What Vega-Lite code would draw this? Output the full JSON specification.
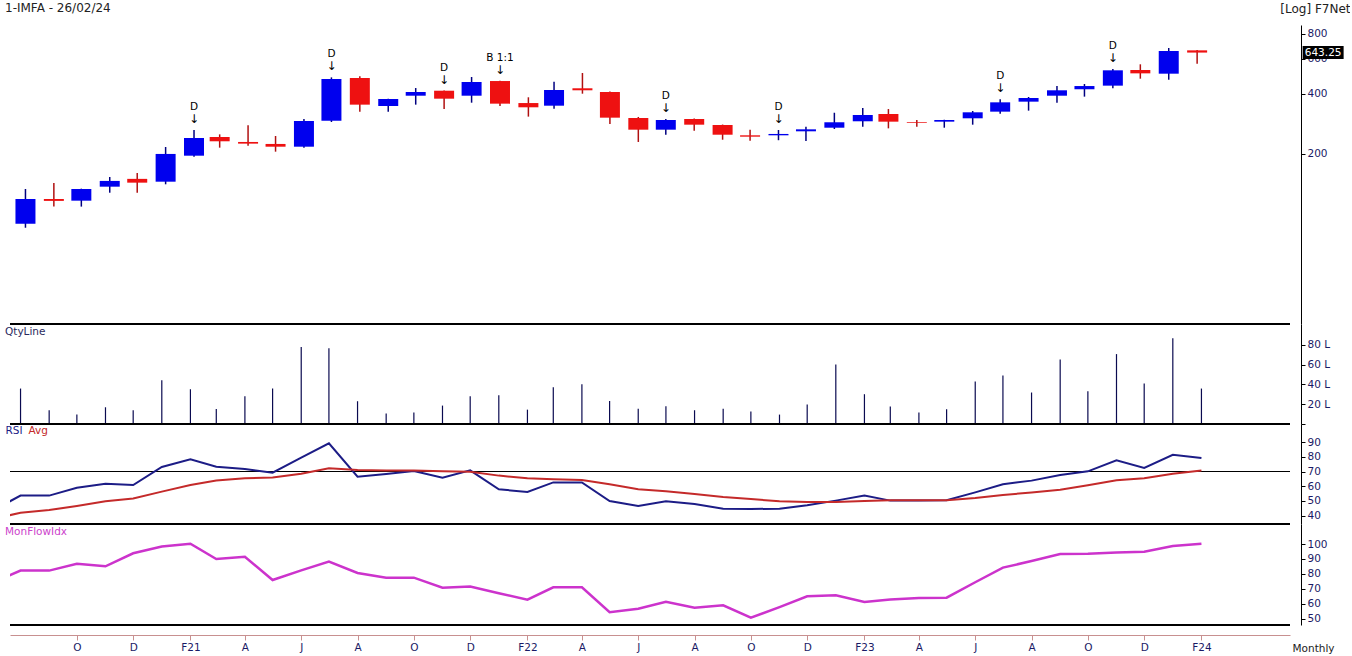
{
  "$schema": "https://vega.github.io/schema/vega-lite/v6.json",
  "background": "white",
  "padding": {"left": 5, "top": 2, "right": 0, "bottom": 0},
  "bounds": "flush",
  "spacing": 0,
  "config": {
    "font": "DejaVu Sans",
    "view": {"stroke": null},
    "axis": {"grid": false, "domainColor": "#000000", "tickColor": "#000000", "labelColor": "#1a1a66", "labelFontSize": 10.5, "labelPadding": 2, "tickSize": 4, "labelOverlap": false}
  },
  "resolve": {"scale": {"x": "independent", "y": "independent", "color": "independent"}, "legend": {"color": "independent"}},
  "datasets": {
    "ohlc": [
      {"date": "2020-08-01", "open": 89.1, "high": 133, "low": 85, "close": 118.5, "vol": 35.8},
      {"date": "2020-09-01", "open": 118.5, "high": 142.6, "low": 108.5, "close": 115.9, "vol": 13.9},
      {"date": "2020-10-01", "open": 116.2, "high": 133.5, "low": 108.5, "close": 133, "vol": 9.5},
      {"date": "2020-11-01", "open": 136.6, "high": 152.8, "low": 127.4, "close": 146, "vol": 16.9},
      {"date": "2020-12-01", "open": 149.5, "high": 160, "low": 127.4, "close": 143.1, "vol": 13.9},
      {"date": "2021-01-01", "open": 144.7, "high": 216, "low": 140.4, "close": 199.4, "vol": 44.3},
      {"date": "2021-02-01", "open": 195.4, "high": 263, "low": 193, "close": 239.8, "vol": 35.1, "event": "D"},
      {"date": "2021-03-01", "open": 242.5, "high": 250, "low": 214.4, "close": 230.8, "vol": 15.2},
      {"date": "2021-04-01", "open": 229, "high": 277.6, "low": 219.4, "close": 224.6, "vol": 28},
      {"date": "2021-05-01", "open": 223.8, "high": 245.4, "low": 204.7, "close": 216.8, "vol": 35.8},
      {"date": "2021-06-01", "open": 216.8, "high": 298.6, "low": 214.4, "close": 291.8, "vol": 77.7},
      {"date": "2021-07-01", "open": 292.8, "high": 483, "low": 288.5, "close": 474, "vol": 76.4, "event": "D"},
      {"date": "2021-08-01", "open": 479.4, "high": 489, "low": 325, "close": 352.4, "vol": 23},
      {"date": "2021-09-01", "open": 347, "high": 377, "low": 325, "close": 376.3, "vol": 10.5},
      {"date": "2021-10-01", "open": 390.8, "high": 427, "low": 352.4, "close": 407.8, "vol": 11.5},
      {"date": "2021-11-01", "open": 414, "high": 415, "low": 335, "close": 377.6, "vol": 18.6, "event": "D"},
      {"date": "2021-12-01", "open": 390.8, "high": 485, "low": 360.5, "close": 458, "vol": 28},
      {"date": "2022-01-01", "open": 463, "high": 464, "low": 347, "close": 356.5, "vol": 29, "event": "B 1:1"},
      {"date": "2022-02-01", "open": 359, "high": 383.7, "low": 306.9, "close": 341.8, "vol": 14.5},
      {"date": "2022-03-01", "open": 348.2, "high": 459.5, "low": 336.4, "close": 417.5, "vol": 37.2},
      {"date": "2022-04-01", "open": 425.8, "high": 508, "low": 400, "close": 416, "vol": 40.2},
      {"date": "2022-05-01", "open": 407.8, "high": 410, "low": 281.9, "close": 303.2, "vol": 23.3},
      {"date": "2022-06-01", "open": 302, "high": 305.7, "low": 229, "close": 263.9, "vol": 15.5},
      {"date": "2022-07-01", "open": 263.9, "high": 298.6, "low": 249, "close": 295.2, "vol": 17.9, "event": "D"},
      {"date": "2022-08-01", "open": 298.6, "high": 300, "low": 260.8, "close": 279.6, "vol": 13.9},
      {"date": "2022-09-01", "open": 278.6, "high": 280, "low": 235, "close": 249, "vol": 15.5},
      {"date": "2022-10-01", "open": 247.3, "high": 263.9, "low": 232.5, "close": 243.4, "vol": 12.5},
      {"date": "2022-11-01", "open": 247.3, "high": 263, "low": 233.7, "close": 251.2, "vol": 9.5, "event": "D"},
      {"date": "2022-12-01", "open": 259, "high": 273, "low": 231.6, "close": 265, "vol": 19.6},
      {"date": "2023-01-01", "open": 270, "high": 321, "low": 266, "close": 287.5, "vol": 60.1},
      {"date": "2023-02-01", "open": 290.8, "high": 339, "low": 273, "close": 312.7, "vol": 30.1},
      {"date": "2023-03-01", "open": 316.4, "high": 335, "low": 268, "close": 289.5, "vol": 17.6},
      {"date": "2023-04-01", "open": 288.5, "high": 295, "low": 273, "close": 286, "vol": 11.5},
      {"date": "2023-05-01", "open": 289.5, "high": 296, "low": 270, "close": 295.2, "vol": 14.9},
      {"date": "2023-06-01", "open": 301, "high": 327.6, "low": 279.6, "close": 322.6, "vol": 42.9},
      {"date": "2023-07-01", "open": 325, "high": 375, "low": 317.6, "close": 362, "vol": 49, "event": "D"},
      {"date": "2023-08-01", "open": 364.8, "high": 385, "low": 328.8, "close": 380.6, "vol": 31.8},
      {"date": "2023-09-01", "open": 390.8, "high": 437, "low": 360.5, "close": 416, "vol": 65.2},
      {"date": "2023-10-01", "open": 421, "high": 447.5, "low": 386.6, "close": 437, "vol": 33.1},
      {"date": "2023-11-01", "open": 438.9, "high": 532, "low": 426, "close": 524, "vol": 70.6, "event": "D"},
      {"date": "2023-12-01", "open": 526, "high": 561.7, "low": 475.7, "close": 506, "vol": 40.9},
      {"date": "2024-01-01", "open": 504, "high": 678, "low": 470, "close": 655, "vol": 86.5},
      {"date": "2024-02-01", "open": 660, "high": 662, "low": 565.7, "close": 643.25, "vol": 35.8}
    ],
    "ind": [
      {"date": "2020-07-01", "RSI": 43.2, "Avg": 37.5, "MFI": 73.9},
      {"date": "2020-08-01", "RSI": 53.6, "Avg": 42.0, "MFI": 82.2},
      {"date": "2020-09-01", "RSI": 53.6, "Avg": 43.8, "MFI": 82.2},
      {"date": "2020-10-01", "RSI": 59.0, "Avg": 46.5, "MFI": 86.8},
      {"date": "2020-11-01", "RSI": 61.7, "Avg": 49.7, "MFI": 85.1},
      {"date": "2020-12-01", "RSI": 60.8, "Avg": 51.7, "MFI": 93.8},
      {"date": "2021-01-01", "RSI": 73.1, "Avg": 56.3, "MFI": 98.4},
      {"date": "2021-02-01", "RSI": 78.3, "Avg": 60.8, "MFI": 100.2},
      {"date": "2021-03-01", "RSI": 73.3, "Avg": 63.8, "MFI": 90.0},
      {"date": "2021-04-01", "RSI": 71.7, "Avg": 65.4, "MFI": 91.5},
      {"date": "2021-05-01", "RSI": 69.2, "Avg": 66.0, "MFI": 75.9},
      {"date": "2021-06-01", "RSI": 79.4, "Avg": 68.5, "MFI": 82.4},
      {"date": "2021-07-01", "RSI": 89.2, "Avg": 72.2, "MFI": 88.2},
      {"date": "2021-08-01", "RSI": 66.5, "Avg": 71.0, "MFI": 80.6},
      {"date": "2021-09-01", "RSI": 68.3, "Avg": 70.6, "MFI": 77.5},
      {"date": "2021-10-01", "RSI": 70.3, "Avg": 70.6, "MFI": 77.5},
      {"date": "2021-11-01", "RSI": 65.8, "Avg": 70.1, "MFI": 70.8},
      {"date": "2021-12-01", "RSI": 70.8, "Avg": 69.9, "MFI": 71.5},
      {"date": "2022-01-01", "RSI": 57.9, "Avg": 67.2, "MFI": 67.0},
      {"date": "2022-02-01", "RSI": 56.1, "Avg": 65.4, "MFI": 62.8},
      {"date": "2022-03-01", "RSI": 62.6, "Avg": 64.7, "MFI": 71.0},
      {"date": "2022-04-01", "RSI": 62.6, "Avg": 64.2, "MFI": 71.0},
      {"date": "2022-05-01", "RSI": 49.9, "Avg": 61.3, "MFI": 54.3},
      {"date": "2022-06-01", "RSI": 46.5, "Avg": 57.9, "MFI": 56.7},
      {"date": "2022-07-01", "RSI": 49.7, "Avg": 56.5, "MFI": 61.4},
      {"date": "2022-08-01", "RSI": 47.9, "Avg": 54.7, "MFI": 57.4},
      {"date": "2022-09-01", "RSI": 44.7, "Avg": 52.7, "MFI": 59.0},
      {"date": "2022-10-01", "RSI": 44.5, "Avg": 51.3, "MFI": 50.7},
      {"date": "2022-11-01", "RSI": 44.7, "Avg": 49.7, "MFI": 57.8},
      {"date": "2022-12-01", "RSI": 47.0, "Avg": 49.3, "MFI": 65.0},
      {"date": "2023-01-01", "RSI": 50.2, "Avg": 49.3, "MFI": 65.7},
      {"date": "2023-02-01", "RSI": 53.6, "Avg": 49.9, "MFI": 61.2},
      {"date": "2023-03-01", "RSI": 50.2, "Avg": 50.4, "MFI": 62.8},
      {"date": "2023-04-01", "RSI": 50.2, "Avg": 50.4, "MFI": 63.9},
      {"date": "2023-05-01", "RSI": 50.4, "Avg": 50.4, "MFI": 64.1},
      {"date": "2023-06-01", "RSI": 55.8, "Avg": 52.0, "MFI": 74.4},
      {"date": "2023-07-01", "RSI": 61.3, "Avg": 54.0, "MFI": 84.2},
      {"date": "2023-08-01", "RSI": 63.8, "Avg": 55.8, "MFI": 88.6},
      {"date": "2023-09-01", "RSI": 67.6, "Avg": 57.6, "MFI": 93.3},
      {"date": "2023-10-01", "RSI": 70.1, "Avg": 60.6, "MFI": 93.5},
      {"date": "2023-11-01", "RSI": 77.6, "Avg": 64.0, "MFI": 94.4},
      {"date": "2023-12-01", "RSI": 72.4, "Avg": 65.4, "MFI": 94.9},
      {"date": "2024-01-01", "RSI": 81.4, "Avg": 68.5, "MFI": 98.7},
      {"date": "2024-02-01", "RSI": 79.2, "Avg": 70.6, "MFI": 100.2}
    ]
  },
  "vconcat": [
    {
      "width": 1280,
      "height": 299,
      "title": {"text": "1-IMFA - 26/02/24", "anchor": "start", "frame": "group", "baseline": "bottom", "offset": -25, "dx": -5, "fontSize": 12, "fontWeight": "normal", "color": "#222222"},
      "data": {"name": "ohlc"},
      "encoding": {
        "x": {"field": "date", "type": "temporal", "scale": {"type": "utc", "domain": [{"year": 2020, "month": 7, "date": 20, "hours": 14, "utc": true}, {"year": 2024, "month": 5, "date": 6, "hours": 22, "utc": true}]}, "axis": null}
      },
      "layer": [
        {
          "mark": {"type": "rule", "strokeWidth": 1.5},
          "encoding": {
            "y": {"field": "low", "type": "quantitative", "scale": {"type": "log", "domain": [27.95, 884.6], "nice": false},
              "axis": {"orient": "right", "offset": 11, "values": [200, 400, 600, 800], "tickCount": 12, "format": "d", "labelOverlap": false, "title": "[Log] F7Net", "titleAngle": 0, "titleAlign": "right", "titleBaseline": "middle", "titleX": 49, "titleY": -17, "titleFontWeight": "normal", "titleFontSize": 12, "titleColor": "#222222"}},
            "y2": {"field": "high"},
            "color": {"condition": {"test": "datum.close >= datum.open", "value": "#000080"}, "value": "#b01010"}
          }
        },
        {
          "mark": {"type": "bar", "size": 20},
          "encoding": {
            "y": {"field": "open", "type": "quantitative", "scale": {"type": "log", "domain": [27.95, 884.6], "nice": false}},
            "y2": {"field": "close"},
            "color": {"condition": {"test": "datum.close >= datum.open", "value": "#0000ee"}, "value": "#ee1111"}
          }
        },
        {
          "transform": [{"filter": "isValid(datum.event)"}],
          "mark": {"type": "text", "fontSize": 12, "dy": -7, "baseline": "alphabetic", "color": "#000000"},
          "encoding": {
            "y": {"field": "high", "type": "quantitative", "scale": {"type": "log", "domain": [27.95, 884.6], "nice": false}},
            "text": {"value": "↓"}
          }
        },
        {
          "transform": [{"filter": "isValid(datum.event)"}],
          "mark": {"type": "text", "fontSize": 10.5, "dy": -20, "baseline": "alphabetic", "color": "#000000"},
          "encoding": {
            "y": {"field": "high", "type": "quantitative", "scale": {"type": "log", "domain": [27.95, 884.6], "nice": false}},
            "text": {"field": "event"}
          }
        },
        {
          "transform": [{"filter": "datum.close == 643.25"}],
          "mark": {"type": "point", "shape": "M-1.464,-0.464H1.464V0.464H-1.464Z", "size": 784, "filled": true, "color": "#000000", "opacity": 1, "xOffset": 126},
          "encoding": {
            "y": {"field": "close", "type": "quantitative", "scale": {"type": "log", "domain": [27.95, 884.6], "nice": false}}
          }
        },
        {
          "transform": [{"filter": "datum.close == 643.25"}],
          "mark": {"type": "text", "color": "#ffffff", "fontSize": 10.5, "dx": 126, "align": "center", "baseline": "middle"},
          "encoding": {
            "y": {"field": "close", "type": "quantitative", "scale": {"type": "log", "domain": [27.95, 884.6], "nice": false}},
            "text": {"field": "close", "type": "quantitative", "format": ".2f"}
          }
        }
      ]
    },
    {
      "width": 1280,
      "height": 100,
      "title": {"text": "QtyLine", "anchor": "start", "frame": "group", "baseline": "top", "offset": -14, "dx": -5, "fontSize": 10.5, "fontWeight": "normal", "color": "#2a2a5e"},
      "data": {"name": "ohlc"},
      "layer": [
        {
          "mark": {"type": "rule", "color": "#000000", "strokeWidth": 1.2},
          "encoding": {"y": {"datum": 101, "type": "quantitative", "scale": {"domain": [0, 101], "nice": false}}}
        },
        {
          "mark": {"type": "rule", "color": "#0a0a50", "strokeWidth": 1.2},
          "encoding": {
            "x": {"field": "date", "type": "temporal", "scale": {"type": "utc", "domain": [{"year": 2020, "month": 7, "date": 20, "hours": 14, "utc": true}, {"year": 2024, "month": 5, "date": 6, "hours": 22, "utc": true}]}, "axis": null},
            "y": {"field": "vol", "type": "quantitative", "scale": {"domain": [0, 101], "nice": false},
              "axis": {"orient": "right", "offset": 11, "values": [0, 20, 40, 60, 80], "tickCount": 12, "labelOverlap": false, "labelExpr": "datum.value == 0 ? '' : datum.value + ' L'", "title": null}},
            "y2": {"datum": 0}
          }
        }
      ]
    },
    {
      "width": 1280,
      "height": 100,
      "data": {"name": "ind"},
      "layer": [
        {
          "mark": {"type": "rule", "color": "#000000", "strokeWidth": 1.2},
          "encoding": {"y": {"datum": 102.3, "type": "quantitative", "scale": {"domain": [34.3, 102.3], "nice": false, "zero": false}}}
        },
        {
          "mark": {"type": "rule", "color": "#000000", "strokeWidth": 1},
          "encoding": {"y": {"datum": 70, "type": "quantitative", "scale": {"domain": [34.3, 102.3], "nice": false, "zero": false}}}
        },
        {
          "transform": [{"fold": ["RSI", "Avg"], "as": ["series", "value"]}],
          "mark": {"type": "line", "strokeWidth": 2, "clip": true},
          "encoding": {
            "x": {"field": "date", "type": "temporal", "scale": {"type": "utc", "domain": [{"year": 2020, "month": 7, "date": 20, "hours": 14, "utc": true}, {"year": 2024, "month": 5, "date": 6, "hours": 22, "utc": true}]}, "axis": null},
            "y": {"field": "value", "type": "quantitative", "scale": {"domain": [34.3, 102.3], "nice": false, "zero": false},
              "axis": {"orient": "right", "offset": 11, "values": [40, 50, 60, 70, 80, 90], "tickCount": 12, "labelOverlap": false, "title": null}},
            "color": {"field": "series", "type": "nominal", "scale": {"domain": ["RSI", "Avg"], "range": ["#1c1c86", "#c42a2a"]},
              "legend": {"orient": "none", "legendX": -5, "legendY": 2, "direction": "horizontal", "title": null, "symbolSize": 0, "symbolStrokeWidth": 0, "symbolOpacity": 0, "labelOffset": -10, "columnPadding": 5, "labelFontSize": 10.5, "padding": 0,
                "encode": {"labels": {"update": {"fill": {"signal": "datum.value === 'RSI' ? '#1c1c86' : '#c42a2a'"}}}}}}
          }
        }
      ]
    },
    {
      "width": 1280,
      "height": 101,
      "title": {"text": "MonFlowIdx", "anchor": "start", "frame": "group", "baseline": "top", "offset": -14, "dx": -5, "fontSize": 10.5, "fontWeight": "normal", "color": "#cc44cc"},
      "data": {"name": "ind"},
      "layer": [
        {
          "mark": {"type": "rule", "color": "#000000", "strokeWidth": 1.2},
          "encoding": {"y": {"datum": 113.4, "type": "quantitative", "scale": {"domain": [45.8, 113.4], "nice": false, "zero": false}}}
        },
        {
          "mark": {"type": "rule", "color": "#000000", "strokeWidth": 1.2},
          "encoding": {"y": {"datum": 45.8, "type": "quantitative", "scale": {"domain": [45.8, 113.4], "nice": false, "zero": false}}}
        },
        {
          "mark": {"type": "line", "strokeWidth": 2.5, "color": "#cc33cc", "clip": true},
          "encoding": {
            "x": {"field": "date", "type": "temporal", "scale": {"type": "utc", "domain": [{"year": 2020, "month": 7, "date": 20, "hours": 14, "utc": true}, {"year": 2024, "month": 5, "date": 6, "hours": 22, "utc": true}]},
              "axis": {"orient": "bottom", "offset": 10, "tickCount": 40, "values": [
                {"year": 2020, "month": 10, "date": 1, "utc": true}, {"year": 2020, "month": 12, "date": 1, "utc": true},
                {"year": 2021, "month": 2, "date": 1, "utc": true}, {"year": 2021, "month": 4, "date": 1, "utc": true}, {"year": 2021, "month": 6, "date": 1, "utc": true}, {"year": 2021, "month": 8, "date": 1, "utc": true}, {"year": 2021, "month": 10, "date": 1, "utc": true}, {"year": 2021, "month": 12, "date": 1, "utc": true},
                {"year": 2022, "month": 2, "date": 1, "utc": true}, {"year": 2022, "month": 4, "date": 1, "utc": true}, {"year": 2022, "month": 6, "date": 1, "utc": true}, {"year": 2022, "month": 8, "date": 1, "utc": true}, {"year": 2022, "month": 10, "date": 1, "utc": true}, {"year": 2022, "month": 12, "date": 1, "utc": true},
                {"year": 2023, "month": 2, "date": 1, "utc": true}, {"year": 2023, "month": 4, "date": 1, "utc": true}, {"year": 2023, "month": 6, "date": 1, "utc": true}, {"year": 2023, "month": 8, "date": 1, "utc": true}, {"year": 2023, "month": 10, "date": 1, "utc": true}, {"year": 2023, "month": 12, "date": 1, "utc": true},
                {"year": 2024, "month": 2, "date": 1, "utc": true}],
                "labelExpr": "utcFormat(datum.value, '%m') == '02' ? 'F' + utcFormat(datum.value, '%y') : slice(utcFormat(datum.value, '%b'), 0, 1)",
                "labelOverlap": false, "labelFlush": false, "domainColor": "#c89090", "tickColor": "#c89090", "tickSize": 5, "labelPadding": 2,
                "title": "Monthly", "titleX": 1282, "titleY": 13, "titleAlign": "left", "titleBaseline": "middle", "titleFontWeight": "normal", "titleFontSize": 10.5, "titleColor": "#222222"}},
            "y": {"field": "MFI", "type": "quantitative", "scale": {"domain": [45.8, 113.4], "nice": false, "zero": false},
              "axis": {"orient": "right", "offset": 11, "values": [50, 60, 70, 80, 90, 100], "tickCount": 12, "labelOverlap": false, "title": null}}
          }
        }
      ]
    }
  ]
}
